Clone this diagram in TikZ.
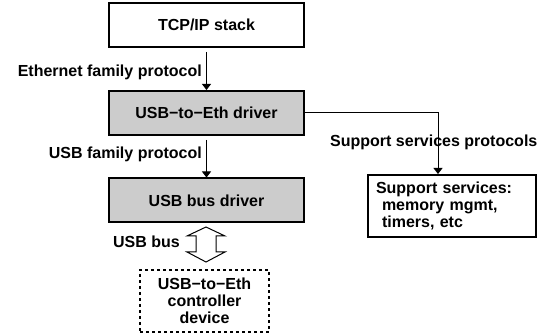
\documentclass[tikz,border=0pt]{standalone}
\usepackage{fontspec}
\setmainfont{Liberation Sans}
\usetikzlibrary{arrows.meta}

\tikzset{
  txt/.style={font=\fontsize{16}{17}\selectfont\bfseries},
  layer/.style={txt, draw, line width=2pt, minimum width=195pt, minimum height=44pt},
  grey/.style={layer, fill=gray!40},
  arr/.style={line width=1pt, -{Triangle[width=9pt,length=6pt]}},
  lbl/.style={txt, inner sep=0pt}
}

\begin{document}
\begin{tikzpicture}[x=1pt, y=-1pt]
  \useasboundingbox (0,0) rectangle (544,336);

  \node[layer] (tcp) at (206.5,25) {TCP/IP stack};
  \node[grey] (drv) at (206.5,113) {USB\textminus to\textminus Eth driver};
  \node[grey] (busdrv) at (206.5,200.5) {USB bus driver};
  \node[txt, draw, line width=2pt, dash pattern=on 3pt off 3pt, align=center,
        minimum width=129pt, minimum height=62pt, inner sep=0pt]
        (dev) at (204.5,301) {USB\textminus to\textminus Eth\\controller\\device};
  \node[txt, draw, line width=2pt, align=left, text width=152pt, inner xsep=8pt,
        minimum height=62pt] (supp) at (452,206)
        {Support services:\\\hspace*{6pt}memory mgmt,\\\hspace*{6pt}timers, etc};

  \draw[arr] ([yshift=-4pt]tcp.south) -- (drv.north);
  \draw[arr] ([yshift=-4pt]drv.south) -- (busdrv.north);
  \draw[arr] (drv.east) -| ([xshift=-14pt]supp.north);

  % USB bus
  \coordinate (bustop) at (206,227);
  \draw[line width=1pt, line join=miter] (bustop) -- ++(-19,9) -- ++(9,0) -- ++(0,16)
    -- ++(-9,0) -- ++(19,10) -- ++(19,-10) -- ++(-9,0) -- ++(0,-16) -- ++(9,0) -- cycle;

  \node[lbl, anchor=base east] (ethlbl) at (202,77) {Ethernet family protocol};
  \node[lbl, anchor=base east] (usblbl) at (202,159) {USB family protocol};
  \node[lbl, anchor=base east] (buslbl) at (180,248) {USB bus};
  \node[lbl, anchor=base west] (supplbl) at (330,147) {Support services protocols};
\end{tikzpicture}
\end{document}
